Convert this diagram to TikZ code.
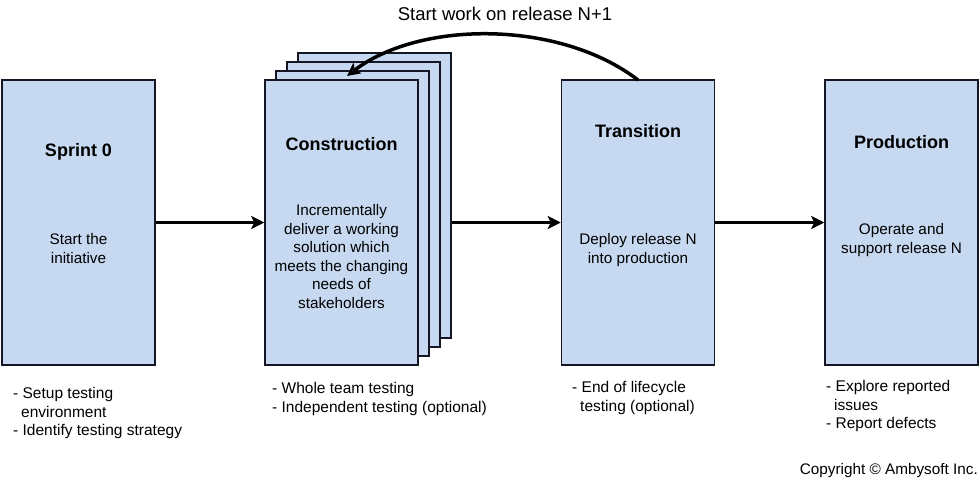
\documentclass[tikz,border=0pt]{standalone}
\usepackage{fontspec}
\setmainfont{Liberation Sans}
\usetikzlibrary{arrows.meta}
\definecolor{boxfill}{RGB}{198,217,240}
\definecolor{boxline}{RGB}{20,22,35}
\begin{document}
\begin{tikzpicture}[x=1pt,y=-1pt,
  phase/.style={draw=boxline, fill=boxfill, line width=1.5pt, minimum width=153pt, minimum height=285pt, inner sep=0pt},
  ttl/.style={font=\fontsize{18}{22}\selectfont\bfseries, text=black, inner sep=0pt},
  body/.style={font=\fontsize{15.3}{18.6}\selectfont, align=center, inner sep=0pt},
  note/.style={font=\fontsize{15.5}{18.7}\selectfont, align=left, inner sep=0pt, anchor=north west},
  flow/.style={line width=3.5pt, -{Stealth[length=13pt,width=13pt,inset=3pt]}}]
\useasboundingbox (0,0) rectangle (980,480);
% boxes
\node[phase] (s0) at (78.5,222.5) {};
\node[phase] (c4) at (374.5,195.5) {};
\node[phase] (c3) at (363.5,204.5) {};
\node[phase] (c2) at (352.5,213.5) {};
\node[phase] (c1) at (341.5,222.5) {};
\node[phase] (tr) at (638,222.5) {};
\node[phase] (pr) at (901.5,222.5) {};
% titles
\node[ttl] (s0t) at (78.5,152) {Sprint 0};
\node[ttl] (c1t) at (341.5,144) {Construction};
\node[ttl] (trt) at (638,131) {Transition};
\node[ttl] (prt) at (901.5,142) {Production};
% bodies
\node[body] (s0b) at (78.5,248.5) {Start the\\initiative};
\node[body] (c1b) at (341.5,256.5) {Incrementally\\deliver a working\\solution which\\meets the changing\\needs of\\stakeholders};
\node[body] (trb) at (638,250) {Deploy release N\\into production};
\node[body] (prb) at (901.5,240) {Operate and\\support release N};
% arrows
\draw[flow] (s0.east) -- (c1.west);
\draw[flow] (c1.east -| c4.east) -- (tr.west);
\draw[flow] (tr.east) -- (pr.west);
\coordinate (trtop) at (638,80);
\coordinate (ctop) at (347,76);
\draw[flow] (trtop) .. controls (560,20) and (420,20) .. (ctop);
\node[font=\fontsize{18.5}{22}\selectfont, inner sep=0pt] (lbl) at (505,14) {Start work on release N+1};
% notes
\node[note] (n1) at (13,387) {- Setup testing\\\hspace*{8pt}environment\\- Identify testing strategy};
\node[note] (n2) at (272,382) {- Whole team testing\\- Independent testing (optional)};
\node[note] (n3) at (572,381) {- End of lifecycle\\\hspace*{8pt}testing (optional)};
\node[note] (n4) at (826,380) {- Explore reported\\\hspace*{8pt}issues\\- Report defects};
\node[font=\fontsize{15.3}{18}\selectfont, inner sep=0pt, anchor=east] (copy) at (978,471) {Copyright \textcopyright{} Ambysoft Inc.};
\end{tikzpicture}
\end{document}
